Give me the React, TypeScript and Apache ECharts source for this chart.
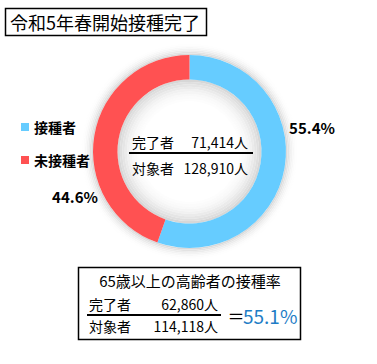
import React, { useEffect, useRef } from "react";
import * as echarts from "echarts";

const categories = ["接種者", "未接種者"];
const counts = [71414, 57496];
const sliceColors = ["#66CCFF", "#FF5152"];
const percentLabels = ["55.4%", "44.6%"];
const titleText = "令和5年春開始接種完了";
const elderlyTitle = "65歳以上の高齢者の接種率";
const elderlyDone = 62860;
const elderlyTarget = 114118;

const fmt = (n: number) => n.toLocaleString("en-US");
const FONT = "'Noto Sans CJK JP', 'Noto Sans', sans-serif";

export default function App() {
  const ref = useRef<HTMLDivElement>(null);
  useEffect(() => {
    if (!ref.current) return;
    const chart = echarts.init(ref.current, null, { renderer: "svg" });
    const total = counts[0] + counts[1];
    const rate = ((elderlyDone / elderlyTarget) * 100).toFixed(1) + "%";
    const labelPos = [
      [312, 127],
      [75, 196],
    ];
    const cx = 189.5;
    const cy = 151.5;
    const rIn = 72;
    const rOut = 96.5;
    // soft glow rings around the donut (decorative shading)
    const glow: any[] = [];
    const innerSteps = 10;
    for (let k = 0; k < innerSteps; k++) {
      const t = (k + 1) / innerSteps;
      const g = Math.round(255 - 40 * t * t);
      glow.push({
        type: "pie",
        silent: true,
        z: 1,
        center: [cx, cy],
        radius: [rIn - (innerSteps - k) * 2.4, rIn - (innerSteps - k - 1) * 2.4],
        label: { show: false },
        labelLine: { show: false },
        data: [{ value: 1, name: "g" + k, itemStyle: { color: `rgb(${g},${g},${g})` } }],
      });
    }
    const outerSteps = 7;
    for (let k = 0; k < outerSteps; k++) {
      const t = 1 - k / outerSteps;
      const g = Math.round(255 - 38 * t * t);
      glow.push({
        type: "pie",
        silent: true,
        z: 1,
        center: [cx, cy],
        radius: [rOut + k * 1.6, rOut + (k + 1) * 1.6],
        label: { show: false },
        labelLine: { show: false },
        data: [{ value: 1, name: "o" + k, itemStyle: { color: `rgb(${g},${g},${g})` } }],
      });
    }
    chart.setOption({
      animation: false,
      textStyle: { fontFamily: FONT },
      legend: {
        orient: "vertical",
        left: 16,
        top: 115,
        itemWidth: 8,
        itemHeight: 8,
        itemGap: 19,
        icon: "rect",
        data: categories,
        textStyle: { fontSize: 14, fontWeight: "bold", color: "#000", fontFamily: FONT },
      },
      series: [
        ...glow,
        {
          type: "pie",
          center: [cx, cy],
          radius: [rIn, rOut],
          startAngle: 90,
          clockwise: true,
          silent: true,
          z: 5,
          data: categories.map((c, i) => ({
            name: c,
            value: counts[i],
            itemStyle: { color: sliceColors[i] },
          })),
          label: {
            show: true,
            position: "outside",
            overflow: "none",
            width: 80,
            formatter: (p: any) => percentLabels[p.dataIndex],
            fontSize: 15,
            fontWeight: "bold",
            color: "#000",
            fontFamily: FONT,
          },
          labelLine: { show: false },
          labelLayout: (params: any) => ({
            x: labelPos[params.dataIndex][0],
            y: labelPos[params.dataIndex][1],
            align: "center",
            verticalAlign: "middle",
          }),
        },
      ],
      graphic: [
        {
          type: "rect",
          shape: { x: 5.5, y: 8.5, width: 201, height: 27 },
          style: { fill: "#fff", stroke: "#000", lineWidth: 1.5 },
        },
        {
          type: "text",
          x: 105,
          y: 22,
          style: {
            text: titleText,
            fontSize: 18,
            fontFamily: FONT,
            fill: "#000",
            align: "center",
            verticalAlign: "middle",
          },
        },
        {
          type: "text",
          z: 10,
          x: 132,
          y: 142,
          style: { text: "完了者", fontSize: 14, fontFamily: FONT, fill: "#000", verticalAlign: "middle" },
        },
        {
          type: "text",
          z: 10,
          x: 248,
          y: 142,
          style: { text: fmt(counts[0]) + "人", fontSize: 14, fontFamily: FONT, fill: "#000", align: "right", verticalAlign: "middle" },
        },
        {
          type: "line",
          z: 10,
          shape: { x1: 129, y1: 153, x2: 253, y2: 153 },
          style: { stroke: "#000", lineWidth: 2 },
        },
        {
          type: "text",
          z: 10,
          x: 132,
          y: 168,
          style: { text: "対象者", fontSize: 14, fontFamily: FONT, fill: "#000", verticalAlign: "middle" },
        },
        {
          type: "text",
          z: 10,
          x: 248,
          y: 168,
          style: { text: fmt(total) + "人", fontSize: 14, fontFamily: FONT, fill: "#000", align: "right", verticalAlign: "middle" },
        },
        {
          type: "rect",
          z: 10,
          shape: { x: 78.5, y: 267.5, width: 222, height: 72 },
          style: { fill: "#fff", stroke: "#000", lineWidth: 1.5 },
        },
        {
          type: "text",
          z: 11,
          x: 190,
          y: 280,
          style: { text: elderlyTitle, fontSize: 15, fontFamily: FONT, fill: "#000", align: "center", verticalAlign: "middle" },
        },
        {
          type: "text",
          z: 11,
          x: 89,
          y: 304,
          style: { text: "完了者", fontSize: 14, fontFamily: FONT, fill: "#000", verticalAlign: "middle" },
        },
        {
          type: "text",
          z: 11,
          x: 218,
          y: 304,
          style: { text: fmt(elderlyDone) + "人", fontSize: 14, fontFamily: FONT, fill: "#000", align: "right", verticalAlign: "middle" },
        },
        {
          type: "line",
          z: 11,
          shape: { x1: 87, y1: 315, x2: 221, y2: 315 },
          style: { stroke: "#000", lineWidth: 2 },
        },
        {
          type: "text",
          z: 11,
          x: 89,
          y: 326,
          style: { text: "対象者", fontSize: 14, fontFamily: FONT, fill: "#000", verticalAlign: "middle" },
        },
        {
          type: "text",
          z: 11,
          x: 218,
          y: 326,
          style: { text: fmt(elderlyTarget) + "人", fontSize: 14, fontFamily: FONT, fill: "#000", align: "right", verticalAlign: "middle" },
        },
        {
          type: "text",
          z: 11,
          x: 236,
          y: 315,
          style: { text: "＝", fontSize: 17, fontFamily: FONT, fill: "#000", align: "center", verticalAlign: "middle" },
        },
        {
          type: "text",
          z: 11,
          x: 243,
          y: 315,
          style: { text: rate, fontSize: 19, fontFamily: FONT, fill: "#1E7DC6", verticalAlign: "middle" },
        },
      ],
    });
    return () => chart.dispose();
  }, []);
  return (
    <div
      ref={ref}
      style={{ position: "fixed", left: 0, top: 0, width: 377, height: 364, background: "#fff" }}
    />
  );
}
